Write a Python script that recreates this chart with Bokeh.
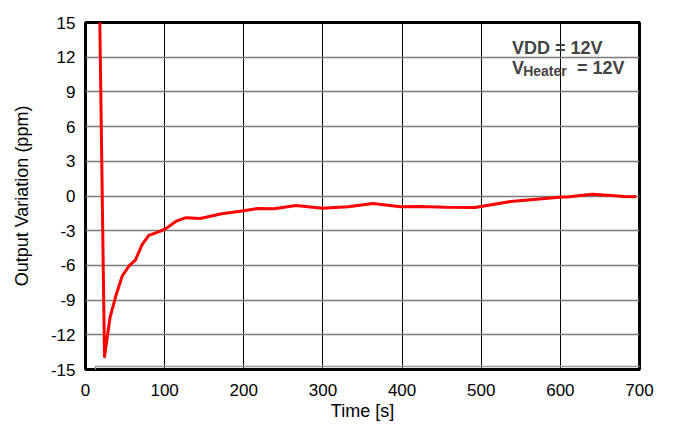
from bokeh.plotting import figure
from bokeh.models import Label, FixedTicker, Range1d
from bokeh.embed import file_html
from bokeh.resources import INLINE

# Data
time_s = [18, 24, 31, 38.5, 46.5, 55, 63, 71.5, 80, 94, 102, 114, 127, 145, 172,
          200, 217, 238, 266, 299, 332, 363, 398, 422, 455, 492, 513, 537, 570,
          599, 611, 640, 660, 681, 696]
variation_ppm = [15.5, -13.9, -10.5, -8.6, -6.9, -6.05, -5.55, -4.2, -3.4, -3.06,
                 -2.8, -2.2, -1.87, -1.95, -1.53, -1.28, -1.08, -1.1, -0.83, -1.06,
                 -0.92, -0.65, -0.92, -0.9, -0.98, -1.0, -0.76, -0.48, -0.29, -0.1,
                 -0.07, 0.15, 0.07, -0.04, -0.07]
x_ticks = [0, 100, 200, 300, 400, 500, 600, 700]
y_ticks = [-15, -12, -9, -6, -3, 0, 3, 6, 9, 12, 15]

FONT = "Liberation Sans"
W, H = 667, 423

p = figure(width=W, height=H, output_backend="svg", toolbar_location=None,
           x_range=Range1d(0, 700), y_range=Range1d(-15, 15),
           min_border_left=85, min_border_right=28, min_border_top=22,
           min_border_bottom=54)

p.outline_line_color = "black"
p.outline_line_width = 3

for ax in (p.xaxis[0], p.yaxis[0]):
    ax.axis_line_color = None
    ax.major_tick_line_color = None
    ax.minor_tick_line_color = None
    ax.major_tick_out = 0
    ax.major_tick_in = 0
    ax.major_label_text_font = FONT
    ax.major_label_text_font_size = "17px"
    ax.major_label_text_color = "black"
    ax.axis_label_text_font = FONT
    ax.axis_label_text_font_size = "18px"
    ax.axis_label_text_font_style = "normal"
    ax.axis_label_text_color = "black"

p.xaxis.ticker = FixedTicker(ticks=x_ticks)
p.yaxis.ticker = FixedTicker(ticks=y_ticks)
p.xaxis.major_label_overrides = {t: str(t) for t in x_ticks}
p.yaxis.major_label_overrides = {t: str(t) for t in y_ticks}
p.xaxis.axis_label = "Time [s]"
p.yaxis.axis_label = "Output Variation (ppm)"
p.xaxis.major_label_standoff = 14
p.xaxis.axis_label_standoff = 2
p.yaxis.major_label_standoff = 10
p.yaxis.axis_label_standoff = 16

p.xgrid.grid_line_color = "black"
p.xgrid.grid_line_width = 1
p.ygrid.grid_line_color = "#7a7a7a"
p.ygrid.grid_line_width = 1.5

p.line(time_s, variation_ppm, line_color="#ff0000", line_width=3,
       line_join="round")

# grey page frame of the source document (drawn as an empty padded label box)
p.add_layout(Label(x=10, y=3, x_units="screen", y_units="screen", text=" ",
                   text_font_size="1px", anchor="top_left",
                   padding=(0, 647, 500, 0), border_line_color="#999999",
                   border_line_width=1.5))

p.add_layout(Label(x=539, y=12.8, text="VDD = 12V", text_font=FONT,
                   text_font_size="18px", text_font_style="bold",
                   text_baseline="alphabetic"))
p.add_layout(Label(x=539, y=11.1, text="V", text_font=FONT,
                   text_font_size="18px", text_font_style="bold",
                   text_baseline="alphabetic"))
p.add_layout(Label(x=553, y=10.8, text="Heater", text_font=FONT,
                   text_font_size="14px", text_font_style="bold",
                   text_baseline="alphabetic"))
p.add_layout(Label(x=621, y=11.1, text="= 12V", text_font=FONT,
                   text_font_size="18px", text_font_style="bold",
                   text_baseline="alphabetic"))

open("out.html", "w").write(file_html(p, INLINE))
